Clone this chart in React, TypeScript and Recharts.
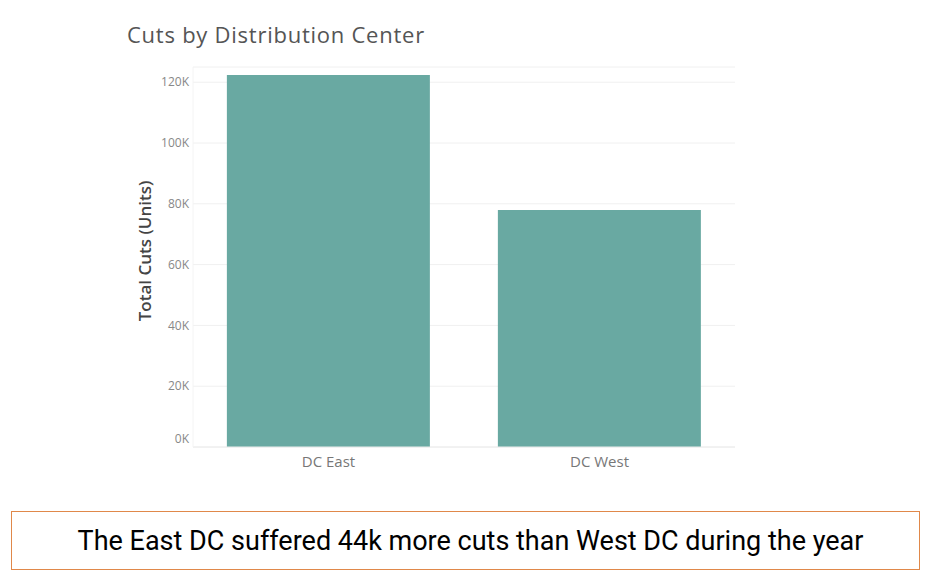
import React from 'react';
import { BarChart, Bar, XAxis, YAxis, CartesianGrid } from 'recharts';

const centers = ['DC East', 'DC West'];
const totalCuts = [122400, 78000];
const yTicks = [0, 20000, 40000, 60000, 80000, 100000, 120000];

const data = centers.map((name, i) => ({ name, cuts: totalCuts[i] }));

const fmtK = (v: number) => `${Math.round(v / 1000)}K`;

// Tableau lifts the bottom label above the baseline
const YTick = (props: any) => {
  const { x, y, payload } = props;
  const lift = payload.value === 0 ? -8 : 0;
  return (
    <text x={x} y={y + lift} dy="0.355em" textAnchor="end" fill="#888" fontSize={12}>
      {fmtK(payload.value)}
    </text>
  );
};

export default function App() {
  return (
    <div style={{ position: 'absolute', left: 0, top: 0, width: 935, height: 579, background: '#fff', fontFamily: '"Open Sans", sans-serif' }}>
      <div style={{ position: 'absolute', left: 127, top: 19, fontSize: 22, color: '#555', letterSpacing: 0.75 }}>
        Cuts by Distribution Center
      </div>
      <div
        style={{
          position: 'absolute',
          left: 144,
          top: 251,
          transform: 'translate(-50%, -50%) rotate(-90deg)',
          whiteSpace: 'nowrap',
          fontSize: 17,
          fontWeight: 600,
          color: '#444',
        }}
      >
        Total Cuts (Units)
      </div>
      <BarChart
        width={935}
        height={579}
        data={data}
        margin={{ top: 67, right: 200, bottom: 102, left: 143 }}
        barCategoryGap="12.5%"
      >
        <CartesianGrid vertical={false} stroke="#f0f0f0" />
        <XAxis
          dataKey="name"
          height={30}
          axisLine={{ stroke: '#ececec' }}
          tickLine={false}
          tick={{ fill: '#777', fontSize: 15 }}
          tickMargin={3}
        />
        <YAxis
          width={50}
          domain={[0, 125000]}
          ticks={yTicks}
          axisLine={{ stroke: '#f4f4f4' }}
          tickLine={false}
          tickSize={0}
          tickMargin={4}
          tick={<YTick />}
        />
        <Bar dataKey="cuts" fill="#69a9a2" isAnimationActive={false} />
      </BarChart>
      <div
        style={{
          position: 'absolute',
          left: 11,
          top: 511,
          width: 897,
          height: 57,
          border: '1px solid #e0884a',
          display: 'flex',
          alignItems: 'center',
          justifyContent: 'center',
          paddingLeft: 10,
          boxSizing: 'content-box',
          fontFamily: 'Roboto, sans-serif',
          fontSize: 27,
          color: '#000',
        }}
      >
        The East DC suffered 44k more cuts than West DC during the year
      </div>
    </div>
  );
}
